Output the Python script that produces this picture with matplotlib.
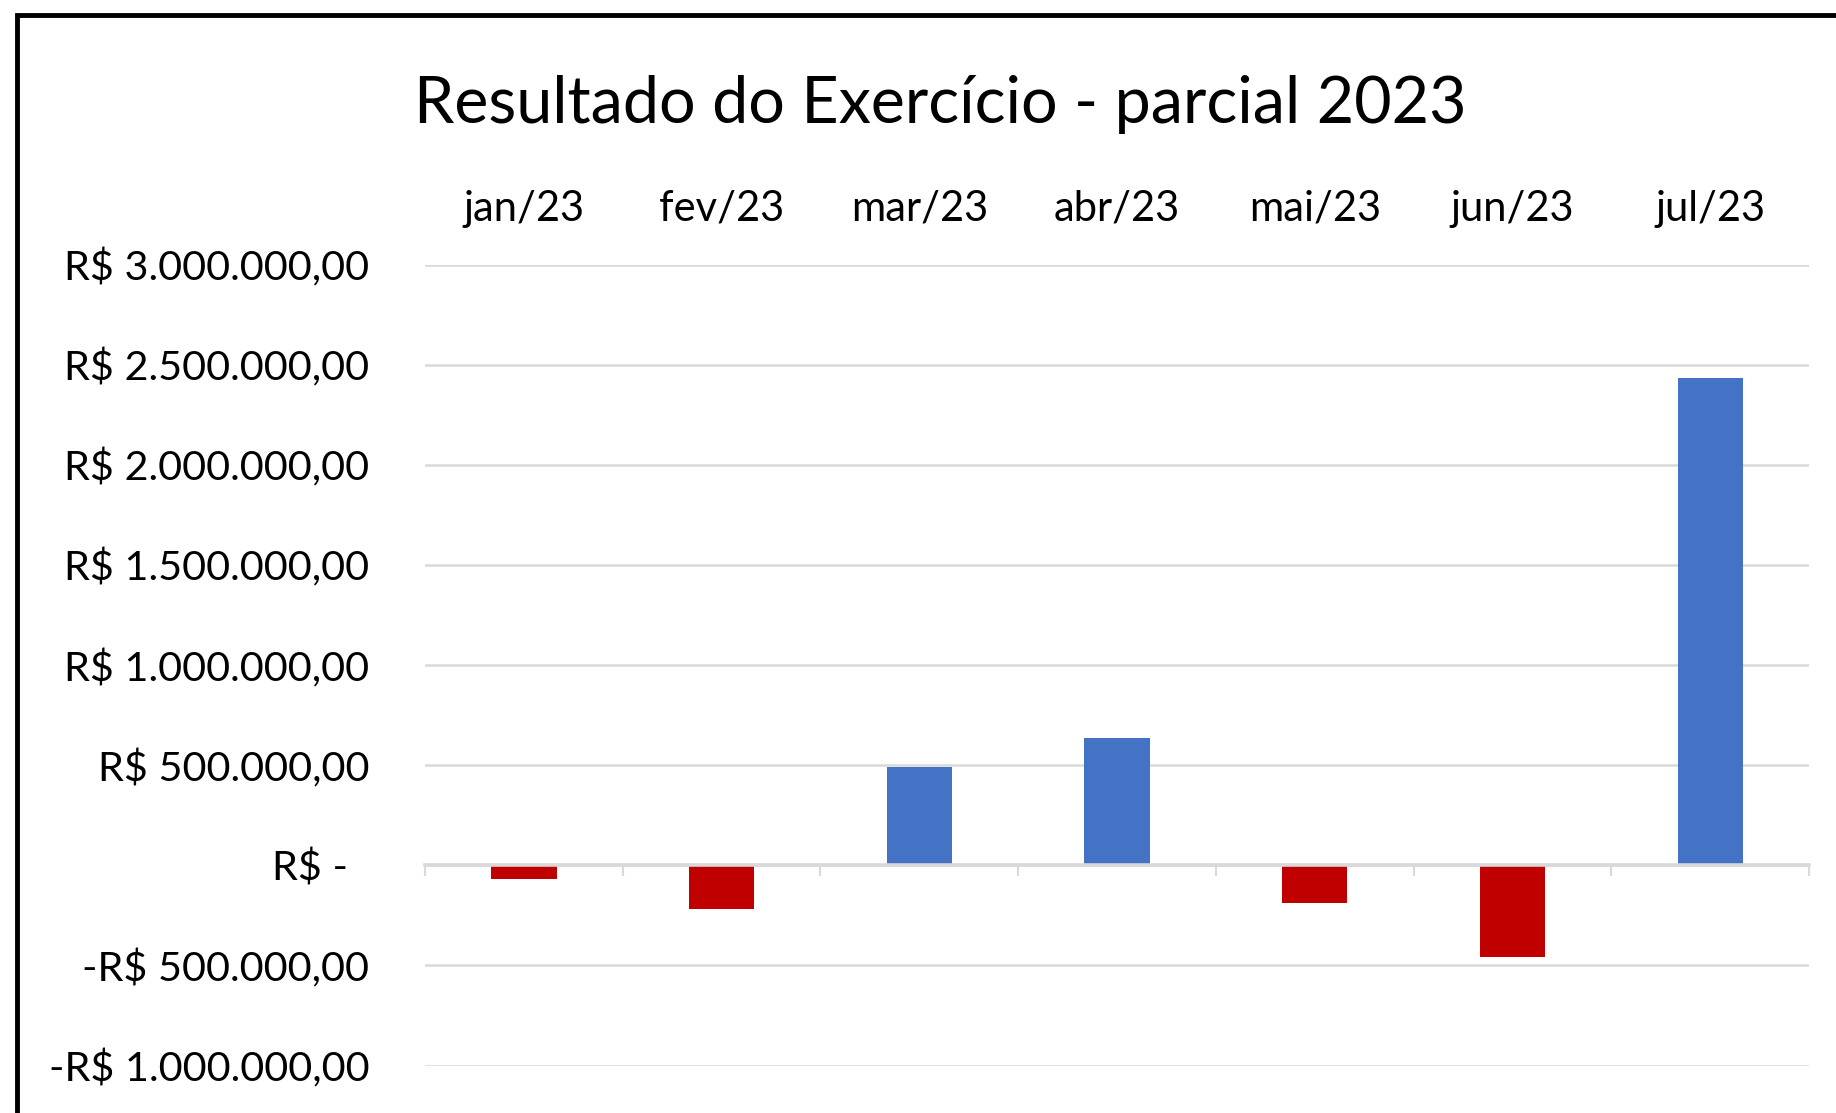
# Resultado do Exercício - parcial 2023 (bar chart, Excel style)
import matplotlib.pyplot as plt
from matplotlib.ticker import FuncFormatter
from matplotlib.patches import Rectangle

# data
meses = ['jan/23', 'fev/23', 'mar/23', 'abr/23', 'mai/23', 'jun/23', 'jul/23']
resultado = [-70000, -218000, 492000, 638000, -186000, -460000, 2435000]

azul = '#4472C4'
vermelho = '#C00000'
cinza = '#D9D9D9'

plt.rcParams['font.family'] = ['Lato', 'DejaVu Sans']

fig = plt.figure(figsize=(18.36, 11.13), dpi=100)
ax = fig.add_axes([0.2315, 0.0426, 0.7538, 0.7197])

cores = [azul if v >= 0 else vermelho for v in resultado]
ax.bar(range(len(meses)), resultado, width=0.33, color=cores, zorder=3)

ax.set_xlim(-0.5, len(meses) - 0.5)
ax.set_ylim(-1000000, 3000000)
ax.set_yticks(range(-1000000, 3000001, 500000))


def reais(v, pos):
    # Excel accounting format: zero shows as a dash with some padding
    if v == 0:
        return 'R$ -  '
    s = f'{abs(v):,.2f}'.replace(',', 'X').replace('.', ',').replace('X', '.')
    return ('-R$ ' if v < 0 else 'R$ ') + s


ax.yaxis.set_major_formatter(FuncFormatter(reais))
ax.yaxis.grid(True, color=cinza, linewidth=1.8, zorder=0)
ax.tick_params(axis='y', length=0, pad=40, labelsize=29.8, labelcolor='#000000')

# month labels on top, category ticks on the zero line
ax.set_xticks(range(len(meses)), meses)
ax.set_xticks([i - 0.5 for i in range(len(meses) + 1)], minor=True)
ax.tick_params(axis='x', which='major', bottom=False, top=False,
               labelbottom=False, labeltop=True, labelsize=30, pad=23)
ax.tick_params(axis='x', which='minor', bottom=True, top=False,
               direction='out', length=8, width=1.5, color=cinza)

for lado in ['left', 'right', 'top']:
    ax.spines[lado].set_visible(False)
ax.spines['bottom'].set_position(('data', 0))
ax.spines['bottom'].set_color(cinza)
ax.spines['bottom'].set_linewidth(2.6)
ax.spines['bottom'].set_zorder(4)

fig.suptitle('Resultado do Exercício - parcial 2023', fontsize=46.5,
             x=0.512, y=0.933)

# chart area border (cropped on the right and bottom)
fig.patches.append(Rectangle((17 / 1836, -0.1), 1.2, 1.1 - 15 / 1113,
                             transform=fig.transFigure, fill=False,
                             edgecolor='black', linewidth=3.5))

fig.savefig('out.png', dpi=100)
